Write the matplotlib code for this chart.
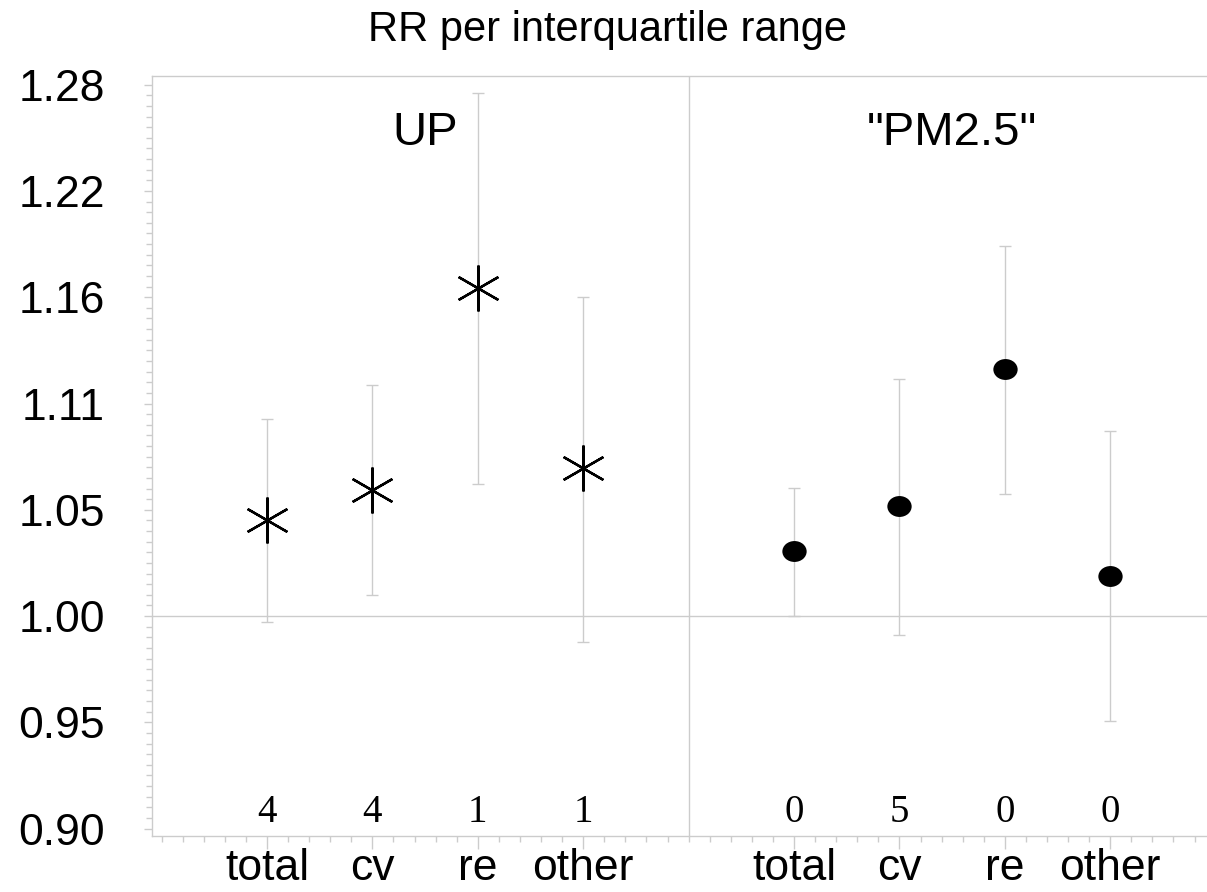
import numpy as np
import matplotlib
matplotlib.use("Agg")
import matplotlib.pyplot as plt
from matplotlib.path import Path
from matplotlib.ticker import FixedLocator, FuncFormatter

# categories and estimates
categories = ["total", "cv", "re", "other"]
up_pos = [1, 2, 3, 4]
pm_pos = [6, 7, 8, 9]

up_rr = [1.046, 1.061, 1.167, 1.072]
up_lo = [0.997, 1.010, 1.064, 0.988]
up_hi = [1.097, 1.115, 1.279, 1.162]

pm_rr = [1.031, 1.053, 1.123, 1.019]
pm_lo = [1.000, 0.991, 1.059, 0.952]
pm_hi = [1.062, 1.118, 1.190, 1.091]

up_n = [4, 4, 1, 1]
pm_n = [0, 5, 0, 0]

panel_labels = ["UP", '"PM2.5"']
title = "RR per interquartile range"

plt.rcParams['font.family'] = ['Liberation Sans', 'DejaVu Sans']
grey = "#cccccc"

fig = plt.figure(figsize=(12.07, 8.92), dpi=100)
ax = fig.add_axes([152/1207, 1 - 836/892, 1055/1207, 760/892])
ax.set_yscale('log')

# slightly flattened dot marker
circ = Path.unit_circle()
ell = Path(circ.vertices * [1.0, 0.86], circ.codes)


def draw(pos, rr, lo, hi, marker, ms, mew):
    rr = np.array(rr)
    err = [rr - np.array(lo), np.array(hi) - rr]
    ax.errorbar(pos, rr, yerr=err, fmt='none', ecolor=grey, elinewidth=1,
                capsize=4.5, capthick=1, zorder=2)
    ax.plot(pos, rr, ls='none', marker=marker, ms=ms, color='black',
            mew=mew, zorder=3)


draw(up_pos, up_rr, up_lo, up_hi, (6, 2, 0), 33, 1.7)
draw(pm_pos, pm_rr, pm_lo, pm_hi, ell, 17.5, 0)

# reference line and panel divider
ax.axhline(1.0, color=grey, lw=1, zorder=1)
ax.axvline(5, color=grey, lw=1, zorder=1)

# counts near the bottom
y_n = np.exp(-0.0925)
for p, n in zip(up_pos + pm_pos, up_n + pm_n):
    ax.text(p, y_n, str(n), ha='center', va='center', fontsize=28,
            family=['Liberation Serif', 'DejaVu Serif'])

ax.text(2.5, np.exp(0.2216), panel_labels[0], ha='center', va='baseline', fontsize=34)
ax.text(7.5, np.exp(0.2216), panel_labels[1], ha='center', va='baseline', fontsize=34)

# axes
ax.set_xlim(-0.091, 9.918)
ax.set_ylim(np.exp(-0.1035), np.exp(0.2541))

ax.yaxis.set_major_locator(FixedLocator(np.exp(np.arange(-0.10, 0.26, 0.05))))
ax.yaxis.set_minor_locator(FixedLocator(np.exp(np.arange(-0.10, 0.2541, 0.005))))
ax.yaxis.set_major_formatter(FuncFormatter(lambda v, p: "%.2f" % v))
ax.yaxis.set_minor_formatter(FuncFormatter(lambda v, p: ""))

ax.set_xticks(up_pos + pm_pos)
ax.set_xticklabels(categories + categories)
ax.xaxis.set_minor_locator(FixedLocator(np.arange(0, 9.95, 0.2)))

ax.tick_params(axis='y', which='major', length=6, width=1, color=grey,
               labelsize=32, pad=28)
ax.tick_params(axis='y', which='minor', length=4, width=1, color=grey)
ax.tick_params(axis='x', which='major', length=9, width=1, color=grey,
               labelsize=32, pad=0)
ax.tick_params(axis='x', which='minor', length=4, width=1, color=grey)

for s in ['left', 'bottom', 'top']:
    ax.spines[s].set_color(grey)
    ax.spines[s].set_linewidth(1)
ax.spines['right'].set_visible(False)

fig.text(0.503, 1 - 30/892, title, ha='center', va='center', fontsize=30)

fig.savefig("out.png", dpi=100)
